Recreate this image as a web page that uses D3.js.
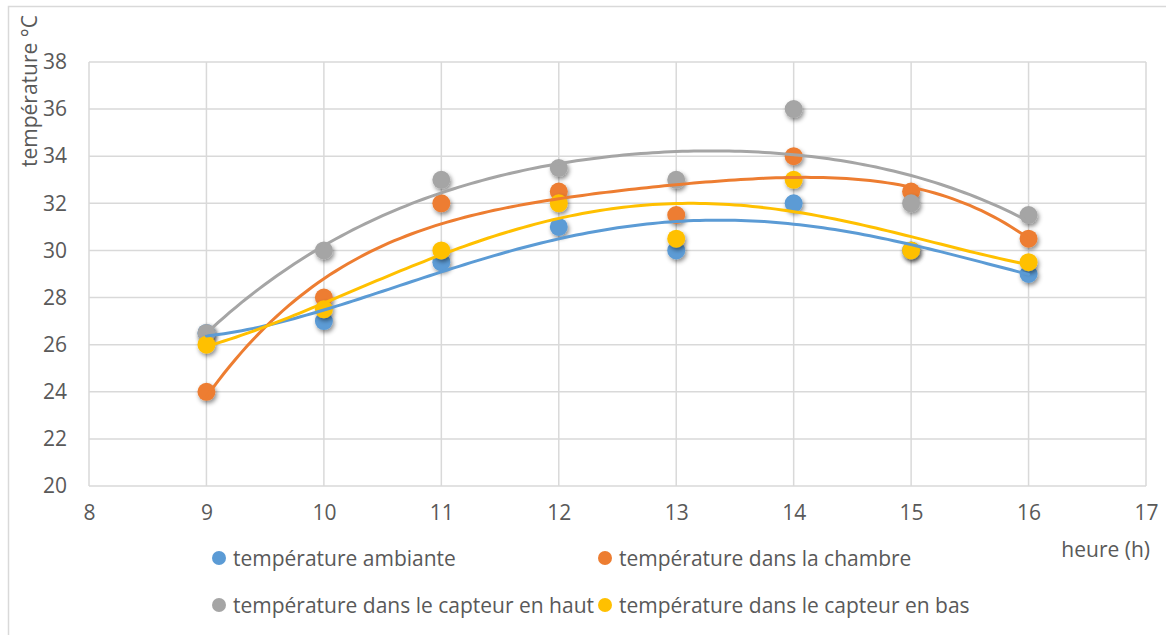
<!DOCTYPE html>
<html>
<head>
<meta charset="utf-8">
<script src="https://cdn.jsdelivr.net/npm/d3@7"></script>
<style>
  body { margin: 0; background: #fff; }
  text { font-family: "Open Sans", Lato, sans-serif; fill: #595959; }
</style>
</head>
<body>
<svg id="chart" width="1166" height="635"></svg>
<script>
// hours of the day
const hours = [9, 10, 11, 12, 13, 14, 15, 16];

// temperatures
const ambiante = [26.5, 27, 29.5, 31, 30, 32, 30, 29];
const chambre = [24, 28, 32, 32.5, 31.5, 34, 32.5, 30.5];
const capteurHaut = [26.5, 30, 33, 33.5, 33, 36, 32, 31.5];
const capteurBas = [26, 27.5, 30, 32, 30.5, 33, 30, 29.5];

const seriesNames = [
  "température ambiante",
  "température dans la chambre",
  "température dans le capteur en haut",
  "température dans le capteur en bas"
];
const seriesColors = ["#5B9BD5", "#ED7D31", "#A5A5A5", "#FFC000"];
const xTicks = [8, 9, 10, 11, 12, 13, 14, 15, 16, 17];
const yTicks = [20, 22, 24, 26, 28, 30, 32, 34, 36, 38];

const series = [ambiante, chambre, capteurHaut, capteurBas].map((vals, i) => ({
  name: seriesNames[i], color: seriesColors[i],
  points: hours.map((h, j) => ({x: h, y: vals[j]}))
}));

const svg = d3.select("#chart");
const fs = "21px";

// drop shadow for the markers
const defs = svg.append("defs");
defs.append("filter").attr("id", "shadow")
  .attr("x", "-50%").attr("y", "-50%").attr("width", "200%").attr("height", "200%")
  .append("feDropShadow")
  .attr("dx", 1.5).attr("dy", 2.5).attr("stdDeviation", 2)
  .attr("flood-color", "#000").attr("flood-opacity", 0.45);

// outer chart border (only top and left visible)
svg.append("rect").attr("x", 8.5).attr("y", 6.5).attr("width", 1200).attr("height", 700)
  .attr("fill", "none").attr("stroke", "#D9D9D9").attr("stroke-width", 1.5);

const x = d3.scaleLinear().domain([8, 17]).range([89, 1146]);
const y = d3.scaleLinear().domain([20, 38]).range([486, 62]);

// gridlines
const grid = svg.append("g");
grid.selectAll("line.h").data(yTicks).enter().append("line")
  .attr("x1", x(8)).attr("x2", x(17))
  .attr("y1", d => y(d)).attr("y2", d => y(d))
  .attr("stroke", "#D9D9D9").attr("stroke-width", 1.5);
grid.selectAll("line.v").data(xTicks).enter().append("line")
  .attr("x1", d => x(d)).attr("x2", d => x(d))
  .attr("y1", y(20)).attr("y2", y(38))
  .attr("stroke", "#D9D9D9").attr("stroke-width", 1.5);

// axes labels via d3 axes, then strip lines
const yAxis = svg.append("g").attr("transform", `translate(${x(8)},0)`)
  .call(d3.axisLeft(y).tickValues(yTicks).tickSize(0).tickPadding(22));
const xAxis = svg.append("g").attr("transform", `translate(0,${y(20)})`)
  .call(d3.axisBottom(x).tickValues(xTicks).tickSize(0).tickPadding(19));
[yAxis, xAxis].forEach(a => {
  a.select(".domain").remove();
  a.selectAll("text").style("font-size", fs).attr("fill", "#595959")
    .style("font-family", "'Open Sans', Lato, sans-serif");
});

// axis titles
svg.append("text")
  .attr("transform", "translate(37,91) rotate(-90)")
  .attr("text-anchor", "middle").style("font-size", fs)
  .text("température °C");
svg.append("text").attr("x", 1150).attr("y", 557)
  .attr("text-anchor", "end").style("font-size", fs)
  .text("heure (h)");

// polynomial least squares fit (like the spreadsheet trendline)
function polyfit(pts, order) {
  const n = order + 1, c = 12.5;
  const A = Array.from({length: n}, () => new Array(n + 1).fill(0));
  pts.forEach(p => {
    const t = p.x - c;
    for (let r = 0; r < n; r++) {
      for (let k = 0; k < n; k++) A[r][k] += Math.pow(t, r + k);
      A[r][n] += p.y * Math.pow(t, r);
    }
  });
  for (let i = 0; i < n; i++) {
    let m = i;
    for (let r = i + 1; r < n; r++) if (Math.abs(A[r][i]) > Math.abs(A[m][i])) m = r;
    [A[i], A[m]] = [A[m], A[i]];
    for (let r = 0; r < n; r++) {
      if (r === i) continue;
      const f = A[r][i] / A[i][i];
      for (let k = i; k <= n; k++) A[r][k] -= f * A[i][k];
    }
  }
  const coef = A.map((row, i) => row[n] / row[i]);
  return xv => coef.reduce((s, cf, i) => s + cf * Math.pow(xv - c, i), 0);
}

const line = d3.line().x(d => x(d.x)).y(d => y(d.y));

// markers
const marks = svg.append("g");
series.forEach(s => {
  marks.append("g").selectAll("circle").data(s.points).enter().append("circle")
    .attr("cx", d => x(d.x)).attr("cy", d => y(d.y)).attr("r", 9)
    .attr("fill", s.color).attr("filter", "url(#shadow)");
});

// trendlines
const trends = svg.append("g");
series.forEach(s => {
  const f = polyfit(s.points, 4);
  const samples = d3.range(9, 16.001, 0.05).map(v => ({x: v, y: f(v)}));
  trends.append("path").datum(samples).attr("d", line)
    .attr("fill", "none").attr("stroke", s.color).attr("stroke-width", 3)
    .attr("stroke-linecap", "round");
});

// legend
const legendPos = [[219, 558], [605, 558], [219, 605], [605, 605]];
const legend = svg.append("g");
series.forEach((s, i) => {
  const g = legend.append("g").attr("transform", `translate(${legendPos[i][0]},${legendPos[i][1]})`);
  g.append("circle").attr("r", 7).attr("fill", s.color);
  g.append("text").attr("x", 14).attr("y", 7.5).style("font-size", fs).text(s.name);
});
</script>
</body>
</html>
